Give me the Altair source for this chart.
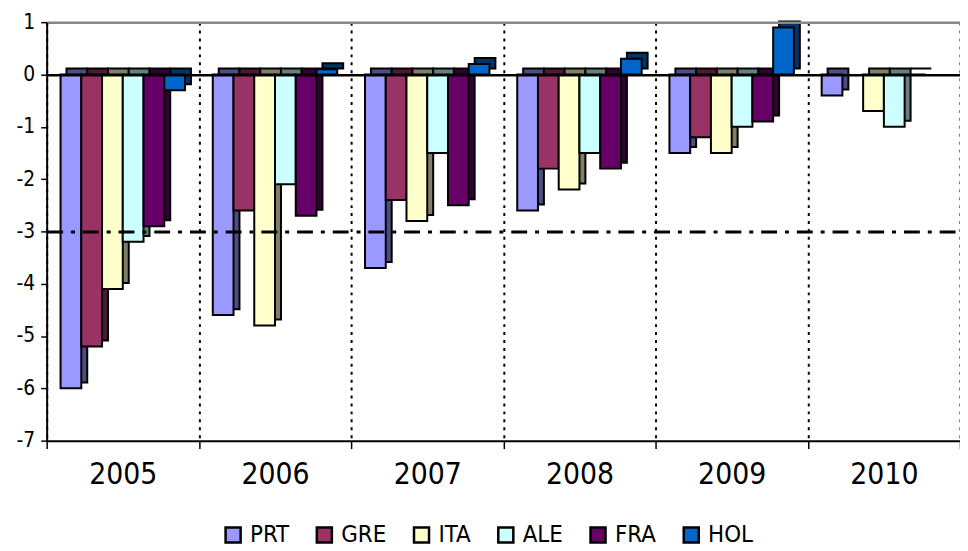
import altair as alt
import pandas as pd

years = ["2005", "2006", "2007", "2008", "2009", "2010"]
series = ["PRT", "GRE", "ITA", "ALE", "FRA", "HOL"]
PRT = [-6.0, -4.6, -3.7, -2.6, -1.5, -0.4]
GRE = [-5.2, -2.6, -2.4, -1.8, -1.2, None]
ITA = [-4.1, -4.8, -2.8, -2.2, -1.5, -0.7]
ALE = [-3.2, -2.1, -1.5, -1.5, -1.0, -1.0]
FRA = [-2.9, -2.7, -2.5, -1.8, -0.9, 0.0]
HOL = [-0.3, 0.1, 0.2, 0.3, 0.9, None]
colors = ["#9999FF", "#993366", "#FFFFCC", "#CCFFFF", "#660066", "#0066CC"]
side_colors = ["#4D4D80", "#4D1A33", "#808066", "#668080", "#330033", "#003366"]
limit_value = -3
y_ticks = [-7, -6, -5, -4, -3, -2, -1, 0, 1]

rows = []
for s, vals, d in zip(series, [PRT, GRE, ITA, ALE, FRA, HOL], side_colors):
    for yr, v in zip(years, vals):
        if v is not None:
            rows.append({"year": yr, "series": s, "value": v, "dark": d})
df = pd.DataFrame(rows)

FONT = "DejaVu Sans Condensed, DejaVu Sans, sans-serif"
W, H = 921, 422
step = W / len(years)
gap = 14
depth = 6
x_scale = alt.Scale(domain=years, paddingInner=0, paddingOuter=0)
off_scale = alt.Scale(domain=series, range=[gap, step - gap])
off_scale_shadow = alt.Scale(domain=series, range=[gap + depth, step - gap + depth])
y_scale = alt.Scale(domain=[-7, 1], nice=False)

x_axis = alt.Axis(labelFontSize=30, labelColor="black", labelPadding=11, tickBand="extent",
                  tickSize=8, tickColor="black", tickWidth=1.5, domainColor="black",
                  domainWidth=2, labelAngle=0, labelFont=FONT, title=None,
                  grid=True, gridColor="black", gridWidth=2, gridDash=[3, 5])

y_axis = alt.Axis(
    values=y_ticks, labelFontSize=21, labelColor="black", labelPadding=6,
    tickSize=6, tickColor="black", tickWidth=1.5, domainColor="black",
    domainWidth=2, labelFont=FONT, labelExpr="'' + datum.value", grid=True, zindex=1, title=None,
    gridColor=alt.condition("datum.value == 1", alt.value("#888888"), alt.value("black")),
    gridOpacity=alt.condition(f"datum.value == {limit_value} || datum.value == 0 || datum.value == 1",
                              alt.value(1), alt.value(0)),
    gridWidth=alt.condition(f"datum.value == {limit_value}", alt.value(3), alt.value(2.5)),
    gridDash=alt.condition(f"datum.value == {limit_value}", alt.value([16, 8, 4, 8]), alt.value([])),
)

base = alt.Chart(df)

shadow = base.mark_bar(yOffset=-depth, y2Offset=-depth, stroke="black", strokeWidth=2).encode(
    x=alt.X("year:N", scale=x_scale, axis=x_axis),
    xOffset=alt.XOffset("series:N", sort=series, scale=off_scale_shadow),
    y=alt.Y("value:Q", scale=y_scale, axis=y_axis),
    color=alt.Color("dark:N", scale=None, legend=None),
)

bars = base.mark_bar(stroke="black", strokeWidth=2).encode(
    x=alt.X("year:N", scale=x_scale, axis=x_axis),
    xOffset=alt.XOffset("series:N", sort=series, scale=off_scale),
    y=alt.Y("value:Q", scale=y_scale, axis=y_axis),
    fill=alt.Fill("series:N", sort=series, scale=alt.Scale(domain=series, range=colors),
                  legend=alt.Legend(orient="none", legendX=176, legendY=505, direction="horizontal",
                                    title=None, symbolType="square", symbolSize=230,
                                    symbolStrokeColor="black", symbolStrokeWidth=2.5,
                                    labelFontSize=24, labelFont=FONT, labelColor="black",
                                    labelOffset=5, columnPadding=22)),
)

chart = alt.layer(shadow, bars).resolve_scale(
    xOffset="independent"
).properties(
    width=W, height=H,
    padding={"left": 39, "top": 12, "right": 0, "bottom": 109},
    autosize=alt.AutoSizeParams(type="none"),
).configure_view(stroke=None)

chart.save("out.html", embed_options={"renderer": "svg", "actions": False})
